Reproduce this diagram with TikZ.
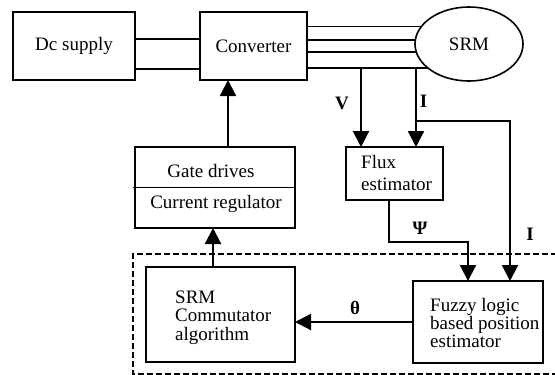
\documentclass[tikz,border=0pt]{standalone}
\usepackage{fontspec}
\setmainfont{Liberation Serif}
\usetikzlibrary{shapes.geometric,arrows.meta}
\begin{document}
\begin{tikzpicture}[x=1pt,y=-1pt,
  txt/.style={font=\fontsize{19}{19}\selectfont, inner sep=0pt},
  lbl/.style={font=\bfseries\fontsize{19}{19}\selectfont, inner sep=0pt},
  box/.style={draw, line width=1.8pt, inner sep=0pt, outer sep=0pt},
  thickbox/.style={draw, line width=2.8pt, inner sep=0pt, outer sep=0pt},
  pline/.style={line width=1.7pt},
  arr/.style={line width=2.2pt, -{Triangle[length=16pt,width=16pt]}},
  wire/.style={line width=2.2pt},
  dashbox/.style={line width=1.2pt, dash pattern=on 6pt off 3pt}]
\useasboundingbox (0,0) rectangle (555,375);

% blocks
\node[box, txt, minimum width=122pt, minimum height=68pt] (dc) at (74,46) {Dc supply};
\node[box, txt, minimum width=107pt, minimum height=68pt] (conv) at (253.5,46) {Converter};
\node[draw, ellipse, line width=1.6pt, inner sep=0pt, outer sep=0pt,
      minimum width=108pt, minimum height=74pt, txt] (srm) at (469,44) {SRM};
\node[box, minimum width=160pt, minimum height=81pt] (gate) at (215,187.5) {};
\node[txt, anchor=base] (gatet) at (211,177) {Gate drives};
\node[txt, anchor=base] (curt) at (216,208) {Current regulator};
\node[box, minimum width=97pt, minimum height=53pt] (flux) at (394.5,173.5) {};
\node[txt, align=left, anchor=west, font=\fontsize{19}{22}\selectfont] (fluxt) at (361,172.5) {Flux\\estimator};
\node[thickbox, minimum width=149pt, minimum height=95pt] (comm) at (220.5,314.5) {};
\node[txt, align=left, anchor=west, font=\fontsize{19}{18.5}\selectfont] (commt) at (175,317.3) {SRM\\Commutator\\algorithm};
\node[thickbox, minimum width=130pt, minimum height=82pt] (fuzzy) at (478,322) {};
\node[txt, align=left, anchor=west, font=\fontsize{19}{18}\selectfont] (fuzzyt) at (430,322.5) {Fuzzy logic\\based position\\estimator};

% gate divider
\draw[line width=1.8pt] ([xshift=-2pt]gate.west) -- (gate.east);

% power lines
\draw[pline] (dc.east |- 0,39) -- (conv.west |- 0,39);
\draw[pline] (dc.east |- 0,69) -- (conv.west |- 0,69);
\draw[pline] (conv.east |- srm.160.5) -- (srm.160.5);
\draw[pline] (conv.east |- srm.176.8) -- (srm.176.8);
\draw[pline] (conv.east |- srm.189.8) -- (srm.189.8);
\draw[pline] (conv.east |- srm.210.3) -- (srm.210.3);

% measurement taps
\coordinate (vtap) at (361,68);
\coordinate (itap) at (416,68);
\coordinate (ibr) at (416,121);
\draw[arr] (vtap) -- (vtap |- flux.north);
\draw[arr] (itap) -- (itap |- flux.north);
\draw[arr] (ibr) -| ([xshift=32pt]fuzzy.north);
\draw[arr] ([xshift=-5.5pt]flux.south) -- ++(0,42) -| ([xshift=-10pt]fuzzy.north);

% control path
\draw[arr] (fuzzy.west) -- (fuzzy.west -| comm.east);
\draw[arr] ([xshift=-7.5pt]comm.north) -- ([xshift=-7.5pt]comm.north |- gate.south);
\draw[arr] ([xshift=13pt]gate.north) -- ([xshift=13pt]gate.north |- conv.south);

% labels
\node[lbl] (lv) at (342,103.5) {V};
\node[lbl] (li1) at (423.5,101.5) {I};
\node[lbl] (lpsi) at (420,228) {Ψ};
\node[lbl] (li2) at (530,234) {I};
\node[lbl] (lth) at (355,307.5) {θ};

% dashed region
\draw[dashbox] (557,254) -- (133,254) -- (133,374) -- (557,374);
\end{tikzpicture}
\end{document}
